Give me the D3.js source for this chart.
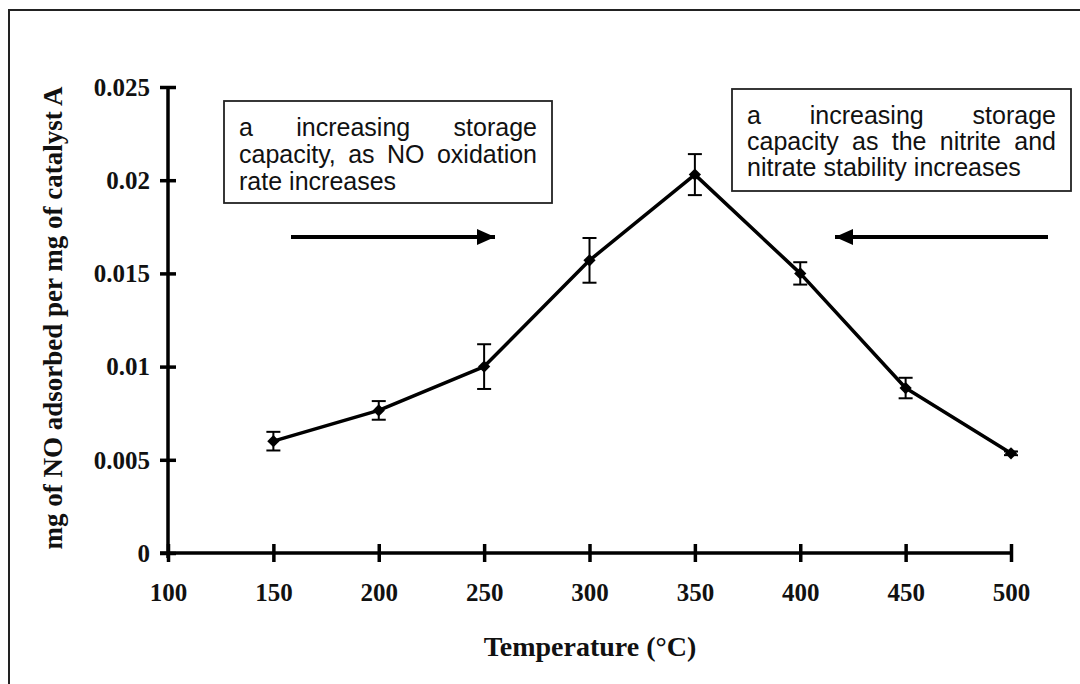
<!DOCTYPE html>
<html>
<head>
<meta charset="utf-8">
<script src="https://cdn.jsdelivr.net/npm/d3@7"></script>
<style>
  body { margin: 0; background: #fff; }
  svg { display: block; }
</style>
</head>
<body>
<svg id="chart" width="1080" height="684"></svg>
<script>
const temps = [150, 200, 250, 300, 350, 400, 450, 500],
    adsorbed = [0.0060, 0.00765, 0.0100, 0.0157, 0.0203, 0.0150, 0.00885, 0.00535],
    errors = [0.0005, 0.0005, 0.0012, 0.0012, 0.0011, 0.0006, 0.00055, 0.0001],
    xTicks = [100, 150, 200, 250, 300, 350, 400, 450, 500],
    yTicks = [0, 0.005, 0.01, 0.015, 0.02, 0.025],
    yTickLabels = ['0', '0.005', '0.01', '0.015', '0.02', '0.025'],
    noteLeft = ['a increasing storage', 'capacity, as NO oxidation', 'rate increases'],
    noteRight = ['a increasing storage', 'capacity as the nitrite and', 'nitrate stability increases'];

const svg = d3.select('#chart'),
    serif = '"Liberation Serif", "Times New Roman", serif',
    sans = '"Liberation Sans", Arial, sans-serif';

const x = d3.scaleLinear().domain([100, 500]).range([168, 1011]),
    y = d3.scaleLinear().domain([0, 0.025]).range([553, 87]);

// outer frame (top + left only visible)
svg.append('path')
    .attr('d', 'M9,684 V10 H1080')
    .attr('fill', 'none')
    .attr('stroke', '#222')
    .attr('stroke-width', 2);

// arrow head
svg.append('defs').append('marker')
    .attr('id', 'head')
    .attr('viewBox', '0 0 10 10')
    .attr('refX', 10).attr('refY', 5)
    .attr('markerWidth', 4.5).attr('markerHeight', 4.5)
    .attr('markerUnits', 'strokeWidth')
    .attr('orient', 'auto')
    .append('path')
    .attr('d', 'M0,0.5 L10,5 L0,9.5 Z')
    .attr('fill', '#000');

// y axis
const yAxis = svg.append('g')
    .attr('transform', `translate(${x(100)},0)`)
    .call(d3.axisLeft(y).tickValues(yTicks).tickSize(8)
        .tickFormat((d, i) => yTickLabels[i]));
yAxis.select('.domain').attr('d', `M0,${y(0) + 5}V${y(0.025)}`);
yAxis.selectAll('.tick line').attr('x1', -8).attr('x2', 8);
yAxis.selectAll('.tick text').attr('x', -18).attr('dy', '0.33em');

// x axis
const xAxis = svg.append('g')
    .attr('transform', `translate(0,${y(0)})`)
    .call(d3.axisBottom(x).tickValues(xTicks).tickSize(8));
xAxis.select('.domain').attr('d', `M${x(100) - 8},0H${x(500)}`);
xAxis.selectAll('.tick line').attr('y1', -9).attr('y2', 9);
xAxis.selectAll('.tick text').attr('y', 48).attr('dy', 0);

svg.selectAll('.domain, .tick line')
    .attr('stroke', '#000')
    .attr('stroke-width', 3.5);
svg.selectAll('.tick text')
    .attr('fill', '#111')
    .style('font-family', serif)
    .style('font-size', '25px')
    .style('font-weight', 'bold');

// axis titles
svg.append('text')
    .attr('x', 590).attr('y', 656)
    .attr('text-anchor', 'middle')
    .style('font-family', serif).style('font-size', '28px').style('font-weight', 'bold')
    .attr('fill', '#111')
    .text('Temperature (°C)');

svg.append('text')
    .attr('transform', 'translate(62,318) rotate(-90)')
    .attr('text-anchor', 'middle')
    .style('font-family', serif).style('font-size', '27px').style('font-weight', 'bold')
    .attr('fill', '#111')
    .text('mg of NO adsorbed per mg of catalyst A');

// error bars
const eb = svg.append('g').selectAll('g')
    .data(temps)
    .join('g')
    .attr('stroke', '#000')
    .attr('stroke-width', 2);
eb.append('line')
    .attr('x1', d => x(d)).attr('x2', d => x(d))
    .attr('y1', (d, i) => y(adsorbed[i] + errors[i]))
    .attr('y2', (d, i) => y(adsorbed[i] - errors[i]));
eb.append('line')
    .attr('x1', d => x(d) - 7).attr('x2', d => x(d) + 7)
    .attr('y1', (d, i) => y(adsorbed[i] + errors[i]))
    .attr('y2', (d, i) => y(adsorbed[i] + errors[i]));
eb.append('line')
    .attr('x1', d => x(d) - 7).attr('x2', d => x(d) + 7)
    .attr('y1', (d, i) => y(adsorbed[i] - errors[i]))
    .attr('y2', (d, i) => y(adsorbed[i] - errors[i]));

// line
svg.append('path')
    .datum(temps)
    .attr('fill', 'none')
    .attr('stroke', '#000')
    .attr('stroke-width', 3.5)
    .attr('stroke-linejoin', 'round')
    .attr('d', d3.line().x(d => x(d)).y((d, i) => y(adsorbed[i])));

// diamond markers
svg.append('g').selectAll('path')
    .data(temps)
    .join('path')
    .attr('transform', (d, i) => `translate(${x(d)},${y(adsorbed[i])}) rotate(45)`)
    .attr('d', d3.symbol(d3.symbolSquare, 75))
    .attr('fill', '#000');

// annotation boxes with justified text
function note(lines, x0, y0, w, h, pad, first, lh) {
    const g = svg.append('g');
    g.append('rect')
        .attr('x', x0).attr('y', y0).attr('width', w).attr('height', h)
        .attr('fill', '#fff').attr('stroke', '#222').attr('stroke-width', 1.8);
    const left = x0 + pad, right = x0 + w - pad;
    lines.forEach((line, li) => {
        const words = line.split(' '),
            by = y0 + first + li * lh;
        const t = words.map(wd => g.append('text')
            .attr('y', by)
            .style('font-family', sans).style('font-size', '25px')
            .attr('fill', '#111')
            .text(wd));
        const widths = t.map(s => s.node().getComputedTextLength()),
            last = li === lines.length - 1,
            total = d3.sum(widths),
            gap = last ? 7 : (right - left - total) / (words.length - 1);
        let cx = left;
        t.forEach((s, k) => { s.attr('x', cx); cx += widths[k] + gap; });
    });
}

note(noteLeft, 224, 101, 328, 102, 15, 35, 27);
note(noteRight, 732, 89, 339, 102, 15, 35, 26);

// arrows
svg.append('line')
    .attr('x1', 291).attr('x2', 495).attr('y1', 237).attr('y2', 237)
    .attr('stroke', '#000').attr('stroke-width', 4)
    .attr('marker-end', 'url(#head)');
svg.append('line')
    .attr('x1', 1048).attr('x2', 835).attr('y1', 237).attr('y2', 237)
    .attr('stroke', '#000').attr('stroke-width', 4)
    .attr('marker-end', 'url(#head)');
</script>
</body>
</html>
